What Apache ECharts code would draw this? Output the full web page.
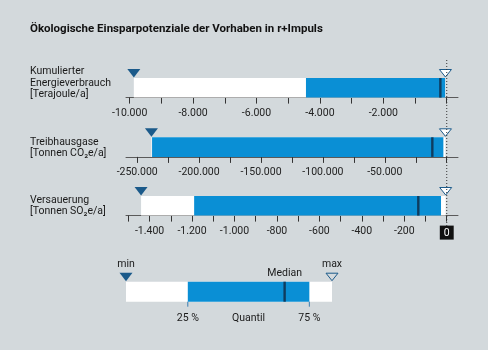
<!DOCTYPE html>
<html>
<head>
<meta charset="utf-8">
<script src="https://cdn.jsdelivr.net/npm/echarts@6/dist/echarts.min.js"></script>
<style>
  html, body { margin: 0; padding: 0; background: #d3d9dc; }
  #chart { width: 488px; height: 350px; }
</style>
</head>
<body>
<div id="chart"></div>
<script>
  // Kennwerte je Indikator: min, 25 %-Quantil, Median, 75 %-Quantil, max
  const panelNames = ['Kumulierter\nEnergieverbrauch\n[Terajoule/a]', 'Treibhausgase\n[Tonnen CO₂e/a]', 'Versauerung\n[Tonnen SO₂e/a]'];
  const minValues = [-9870, -238500, -1440];
  const q1Values = [-4440, -238000, -1190];
  const medianValues = [-200, -11600, -134];
  const q3Values = [-50, -2700, -27];
  const maxValues = [-40, -1000, -5];

  // Achsen
  const ticksEnergy = [-10000, -9000, -8000, -7000, -6000, -5000, -4000, -3000, -2000, -1000, 0];
  const labelsEnergy = [-10000, -8000, -6000, -4000, -2000];
  const ticksGhg = [-250000, -225000, -200000, -175000, -150000, -125000, -100000, -75000, -50000, -25000, 0];
  const labelsGhg = [-250000, -200000, -150000, -100000, -50000];
  const ticksAcid = [-1500, -1400, -1300, -1200, -1100, -1000, -900, -800, -700, -600, -500, -400, -300, -200, -100, 0];
  const labelsAcid = [-1400, -1200, -1000, -800, -600, -400, -200, 0];
  const axisRanges = [[-10117, 356], [-259050, 9128], [-1511, 53]];

  // Legende
  const legendValues = [0, 30, 77, 89, 100];
  const zeroLine = [[0, 0], [0, 1]];

  const FONT = 'Roboto, "Noto Sans", sans-serif';
  const BLUE = '#0a8fd5';
  const DARK = '#1b5a8a';
  const MEDIAN = '#0f3c5f';
  const BG = '#d3d9dc';

  function fmt(v) {
    const s = Math.abs(v).toString().replace(/\B(?=(\d{3})+(?!\d))/g, '.');
    return (v < 0 ? '-' : '') + s;
  }

  function boxShapes(api, hollowFill) {
    const yTop = api.coord([0, 1])[1];
    const yBot = api.coord([0, 0])[1];
    const h = yBot - yTop;
    const x = i => api.coord([api.value(i), 0])[0];
    const xMin = x(0), xQ1 = x(1), xMed = x(2), xQ3 = x(3), xMax = x(4);
    return {
      yTop, yBot, xMin, xQ1, xMed, xQ3, xMax,
      items: [
        { type: 'rect', shape: { x: xMin, y: yTop, width: xMax - xMin, height: h }, style: { fill: '#ffffff' } },
        { type: 'rect', shape: { x: xQ1, y: yTop, width: xQ3 - xQ1, height: h }, style: { fill: BLUE } },
        { type: 'rect', shape: { x: xMed - 1.2, y: yTop, width: 2.4, height: h }, style: { fill: MEDIAN } },
        { type: 'polygon', shape: { points: [[xMin - 6.5, yTop - 9], [xMin + 6.5, yTop - 9], [xMin, yTop - 0.5]] }, style: { fill: DARK } },
        { type: 'polygon', shape: { points: [[xMax - 6, yTop - 8.5], [xMax + 6, yTop - 8.5], [xMax, yTop - 1]] }, style: { fill: hollowFill, stroke: DARK, lineWidth: 1 } }
      ]
    };
  }

  function renderPanel(params, api) {
    return { type: 'group', children: boxShapes(api, '#ffffff').items };
  }

  function renderLegend(params, api) {
    const b = boxShapes(api, BG);
    const txt = (text, x, y) => ({ type: 'text', style: { text, x, y, textAlign: 'center', textVerticalAlign: 'middle', font: '10.5px ' + FONT, fill: '#1a1a1a' } });
    const tick = x => ({ type: 'line', shape: { x1: x, y1: b.yBot, x2: x, y2: b.yBot + 5 }, style: { stroke: '#3a7db0', lineWidth: 1 } });
    return {
      type: 'group',
      children: b.items.concat([
        tick(b.xQ1), tick(b.xQ3),
        txt('min', b.xMin, b.yTop - 17),
        txt('max', b.xMax, b.yTop - 17),
        txt('Median', b.xMed, b.yTop - 8),
        txt('25 %', b.xQ1, b.yBot + 16.5),
        txt('Quantil', (b.xQ1 + b.xQ3) / 2, b.yBot + 16.5),
        txt('75 %', b.xQ3, b.yBot + 16.5)
      ])
    };
  }

  const gridTops = [78, 137.3, 196];
  const grids = gridTops.map(t => ({ left: 126, right: 30, top: t, height: 19.6 }));
  grids.push({ left: 126, width: 206, top: 281.7, height: 20 });
  grids.push({ left: 126, right: 30, top: 58, height: 168 });

  const tickSets = [ticksEnergy, ticksGhg, ticksAcid];
  const labelSets = [labelsEnergy, labelsGhg, labelsAcid];

  const xAxes = [0, 1, 2].map(i => ({
    type: 'value', gridIndex: i,
    min: axisRanges[i][0], max: axisRanges[i][1],
    splitLine: { show: false },
    axisLine: { show: true, onZero: false, lineStyle: { color: '#5a5a5a', width: 1 } },
    axisTick: { show: true, length: 6, customValues: tickSets[i], lineStyle: { color: '#333', width: 1 } },
    axisLabel: {
      customValues: labelSets[i], margin: 10,
      fontFamily: FONT, fontSize: 10.5, color: '#222',
      formatter: v => (v === 0 ? '{zero|0}' : fmt(v)),
      rich: { zero: { backgroundColor: '#111', color: '#fff', padding: [2, 4, 1, 4], fontFamily: FONT, fontSize: 10.5 } }
    }
  }));
  xAxes.push({ type: 'value', gridIndex: 3, min: 0, max: 100, show: false });
  xAxes.push({ type: 'value', gridIndex: 4, min: axisRanges[2][0], max: axisRanges[2][1], show: false });

  const yAxes = [0, 1, 2, 3, 4].map(i => ({ type: 'value', gridIndex: i, min: 0, max: 1, show: false }));

  const series = [0, 1, 2].map(i => ({
    type: 'custom', xAxisIndex: i, yAxisIndex: i, clip: false, silent: true,
    renderItem: renderPanel,
    data: [[minValues[i], q1Values[i], medianValues[i], q3Values[i], maxValues[i]]],
    encode: { x: [0, 1, 2, 3, 4] }
  }));
  series.push({
    type: 'custom', xAxisIndex: 3, yAxisIndex: 3, clip: false, silent: true,
    renderItem: renderLegend,
    data: [legendValues],
    encode: { x: [0, 1, 2, 3, 4] }
  });
  series.push({
    type: 'line', xAxisIndex: 4, yAxisIndex: 4, z: 10, silent: true,
    symbol: 'none', data: zeroLine,
    lineStyle: { color: '#333', width: 1, type: [1, 2] }
  });

  const nameY = [83, 148, 206];
  const graphics = [{
    type: 'text', left: 30, top: 23,
    style: { text: 'Ökologische Einsparpotenziale der Vorhaben in r+Impuls', font: 'bold 11.5px ' + FONT, fill: '#111' }
  }].concat(panelNames.map((n, i) => ({
    type: 'text', left: 30, top: nameY[i] - n.split('\n').length * 5.8,
    style: { text: n, font: '10.5px ' + FONT, fill: '#1a1a1a', lineHeight: 11.6 }
  })));

  const chart = echarts.init(document.getElementById('chart'));
  chart.setOption({
    backgroundColor: BG,
    animation: false,
    grid: grids,
    xAxis: xAxes,
    yAxis: yAxes,
    series: series,
    graphic: graphics
  });
</script>
</body>
</html>
